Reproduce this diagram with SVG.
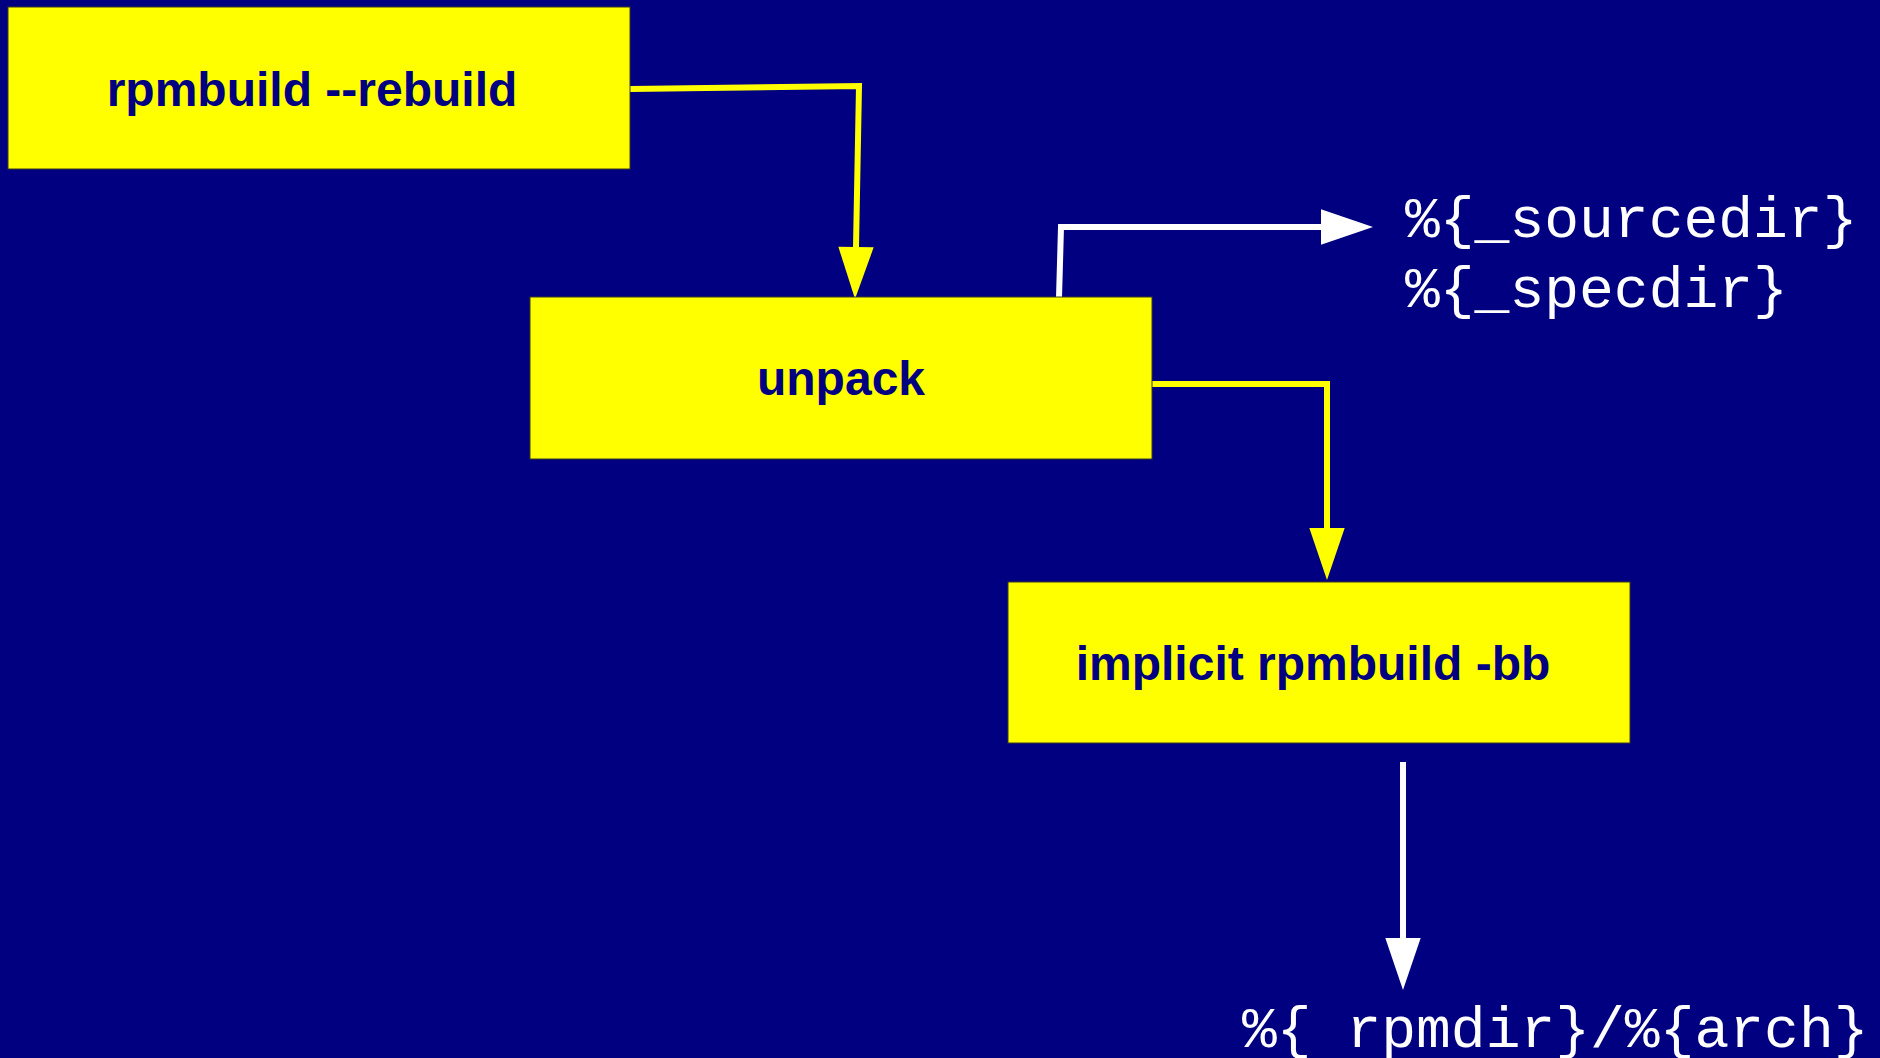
<svg xmlns="http://www.w3.org/2000/svg" width="1880" height="1058" viewBox="0 0 1880 1058">
  <style>
    .box { fill: #FFFF00; stroke: #3a3a20; stroke-width: 1; }
    .label { font-family: "Liberation Sans", Arial, sans-serif; font-weight: bold; font-size: 48px; fill: #000080; text-anchor: middle; }
    .path { font-family: "Liberation Mono", "Courier New", monospace; font-size: 58px; fill: #FFFFFF; }
    .wire-y { fill: none; stroke: #FFFF00; stroke-width: 6; stroke-linejoin: miter; }
    .wire-w { fill: none; stroke: #FFFFFF; stroke-width: 6; stroke-linejoin: miter; }
  </style>
  <defs>
    <marker id="headY" markerUnits="userSpaceOnUse" markerWidth="52" markerHeight="36" viewBox="0 0 50 34" refX="0" refY="17" orient="auto" overflow="visible">
      <path d="M0,0 L50,17 L0,34 Z" fill="#FFFF00"/>
    </marker>
    <marker id="headW" markerUnits="userSpaceOnUse" markerWidth="52" markerHeight="36" viewBox="0 0 50 34" refX="0" refY="17" orient="auto" overflow="visible">
      <path d="M0,0 L50,17 L0,34 Z" fill="#FFFFFF"/>
    </marker>
  </defs>

  <rect width="1880" height="1058" fill="#000080"/>

  <g id="connectors">
    <path class="wire-y" d="M630,89 L859,86 L856,247" marker-end="url(#headY)"/>
    <path class="wire-w" d="M1059,298 L1061,227 L1321,227" marker-end="url(#headW)"/>
    <path class="wire-y" d="M1152,384 L1327,384 L1327,528" marker-end="url(#headY)"/>
    <path class="wire-w" d="M1403,762 L1403,938" marker-end="url(#headW)"/>
  </g>

  <g id="node-rebuild">
    <rect class="box" x="8" y="7" width="622" height="162"/>
    <text class="label" x="312" y="106">rpmbuild --rebuild</text>
  </g>

  <g id="node-unpack">
    <rect class="box" x="530" y="297" width="622" height="162"/>
    <text class="label" x="841" y="395">unpack</text>
  </g>

  <g id="node-bb">
    <rect class="box" x="1008" y="582" width="622" height="161"/>
    <text class="label" x="1313" y="680">implicit rpmbuild -bb</text>
  </g>

  <g id="dirs-source">
    <text class="path" x="1405" y="237">%{_sourcedir}</text>
    <text class="path" x="1405" y="307">%{_specdir}</text>
  </g>

  <g id="dirs-rpm">
    <text class="path" x="1242" y="1047">%{ rpmdir}/%{arch}</text>
  </g>
</svg>
